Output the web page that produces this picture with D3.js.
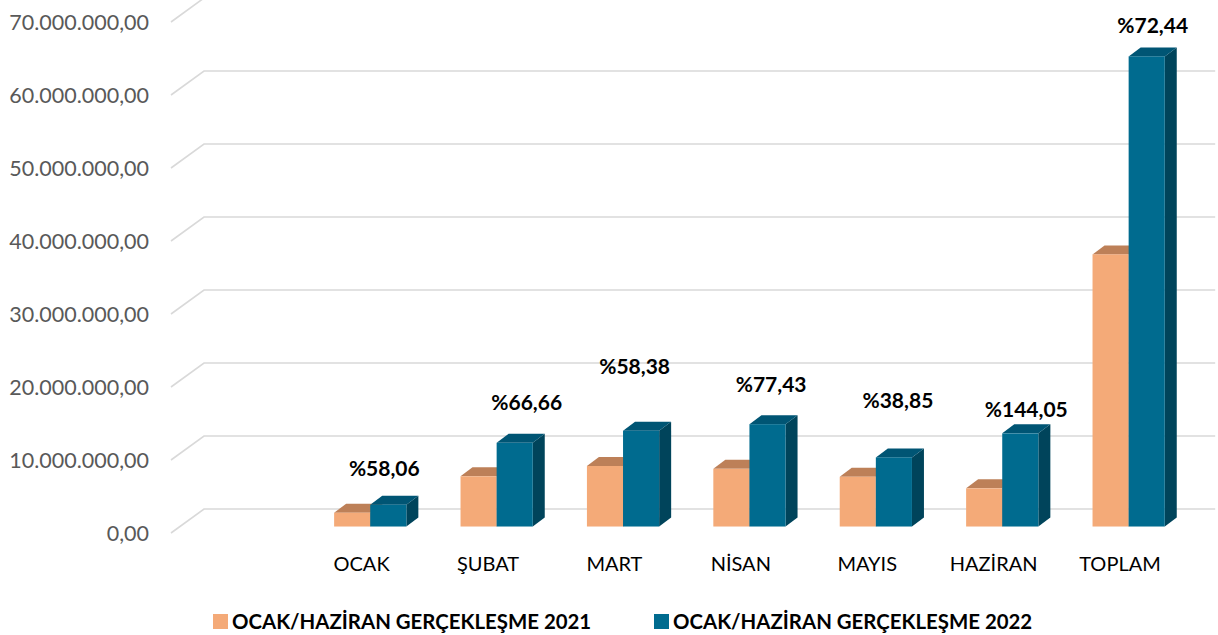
<!DOCTYPE html>
<html>
<head>
<meta charset="utf-8">
<script src="https://cdn.jsdelivr.net/npm/d3@7"></script>
<style>
  html, body { margin: 0; padding: 0; background: #fff; }
  svg { display: block; }
  text { font-family: Lato, "Liberation Sans", Arial, sans-serif; }
</style>
</head>
<body>
<svg id="chart" width="1218" height="635"></svg>
<script>
// ---------------- DATA ----------------
const categories = ["OCAK", "ŞUBAT", "MART", "NİSAN", "MAYIS", "HAZİRAN", "TOPLAM"];
const series2021 = [1890000, 6880000, 8290000, 7900000, 6820000, 5230000, 37280000];
const series2022 = [2990000, 11470000, 13130000, 14020000, 9470000, 12760000, 64400000];
const pctLabels = ["%58,06", "%66,66", "%58,38", "%77,43", "%38,85", "%144,05", "%72,44"];
const seriesNames = ["OCAK/HAZİRAN GERÇEKLEŞME 2021", "OCAK/HAZİRAN GERÇEKLEŞME 2022"];
const yTicks = [0, 10000000, 20000000, 30000000, 40000000, 50000000, 60000000, 70000000];

// ---------------- LAYOUT / STYLE ----------------
const W = 1218, H = 635;
const frontLeft = 172, bandW = 126.4;
const depthDX = 32, depthDY = -24;       // full wall depth offset
const barDepthStart = 0.27, barDepth = 0.375;
const yBase = 533, yTop = 22;
const colors = {
  s2021: { front: "#F4AA78", top: "#BD8058", side: "#A86F4C" },
  s2022: { front: "#006B8F", top: "#005574", side: "#00445B" }
};
// manual label nudges [dx, lift above bar top] in px
const pctLabelNudge = [[-10, 27], [6, 31], [-12.5, 55], [-2.4, 31], [-2, 48], [0, 14.5], [0, 22]];

const svg = d3.select("#chart");

// x: band scale with one leading empty slot (chart area starts with a blank category)
const x = d3.scaleBand()
  .domain(["__blank__", ...categories])
  .range([frontLeft, frontLeft + bandW * (categories.length + 1)])
  .paddingInner(0).paddingOuter(0);

// y: value -> front-plane y
const y = d3.scaleLinear().domain([0, 70000000]).range([yBase, yTop]);

// within-band: two bars each bandW/3.5 wide (gap width 150%)
const barW = bandW / 3.5;
const xs = d3.scaleBand().domain(["s2021", "s2022"]).range([-barW, barW]).padding(0);

const fmt = v => {
  const s = d3.format(",.2f")(v);            // 70,000,000.00
  return s.replace(/,/g, "#").replace(".", ",").replace(/#/g, ".");
};

// ---- gridlines (back wall + left diagonal) ----
const gGrid = svg.append("g");
const backLeft = frontLeft + depthDX;
const backRight = frontLeft + bandW * (categories.length + 1) + depthDX;
yTicks.forEach(t => {
  const yf = y(t);
  gGrid.append("path")
    .attr("d", `M${frontLeft - 1},${yf} L${backLeft},${yf + depthDY} L${backRight},${yf + depthDY}`)
    .attr("fill", "none").attr("stroke", "#D9D9D9").attr("stroke-width", 1.6);
});

// ---- y axis labels ----
svg.append("g").selectAll("text").data(yTicks).join("text")
  .attr("x", 149).attr("y", d => y(d)).attr("dy", "0.36em")
  .attr("text-anchor", "end").attr("fill", "#595959")
  .style("font-size", "21.5px")
  .text(d => fmt(d));

// ---- bars ----
const offX = barDepthStart * depthDX, offY = barDepthStart * depthDY;
const dX = barDepth * depthDX, dY = barDepth * depthDY;
const gBars = svg.append("g");
categories.forEach((c, i) => {
  const cx = x(c) + x.bandwidth() / 2 + offX;
  [["s2021", series2021[i]], ["s2022", series2022[i]]].forEach(([key, v]) => {
    const x0 = cx + xs(key), x1 = x0 + xs.bandwidth();
    const yb = yBase + offY, yt = y(v) + offY;
    const col = colors[key];
    const g = gBars.append("g");
    // side
    g.append("path").attr("d",
      `M${x1},${yb} L${x1 + dX},${yb + dY} L${x1 + dX},${yt + dY} L${x1},${yt} Z`)
      .attr("fill", col.side);
    // top
    g.append("path").attr("d",
      `M${x0},${yt} L${x0 + dX},${yt + dY} L${x1 + dX},${yt + dY} L${x1},${yt} Z`)
      .attr("fill", col.top);
    // front
    g.append("rect").attr("x", x0).attr("y", yt).attr("width", x1 - x0).attr("height", yb - yt)
      .attr("fill", col.front);
  });
});

// ---- percentage labels ----
svg.append("g").selectAll("text").data(categories).join("text")
  .attr("x", (c, i) => x(c) + x.bandwidth() / 2 + offX + xs("s2022") + xs.bandwidth() / 2 + dX / 2 + pctLabelNudge[i][0])
  .attr("y", (c, i) => y(series2022[i]) + offY + dY - pctLabelNudge[i][1])
  .attr("dy", "0.36em")
  .attr("text-anchor", "middle").attr("fill", "#000")
  .style("font-size", "21px").style("font-weight", "bold")
  .text((c, i) => pctLabels[i]);

// ---- category labels ----
svg.append("g").selectAll("text").data(categories).join("text")
  .attr("x", c => x(c) + x.bandwidth() / 2)
  .attr("y", 564).attr("dy", "0.36em")
  .attr("text-anchor", "middle").attr("fill", "#000")
  .style("font-size", "20px")
  .text(c => c);

// ---- legend ----
const legend = svg.append("g");
const legendItems = [
  { name: seriesNames[0], color: colors.s2021.front, x: 213 },
  { name: seriesNames[1], color: colors.s2022.front, x: 654 }
];
legendItems.forEach(it => {
  legend.append("rect").attr("x", it.x).attr("y", 614).attr("width", 15).attr("height", 15).attr("fill", it.color);
  legend.append("text").attr("x", it.x + 19).attr("y", 622).attr("dy", "0.36em")
    .attr("fill", "#000").style("font-size", "20.4px").style("font-weight", "bold")
    .text(it.name);
});
</script>
</body>
</html>
